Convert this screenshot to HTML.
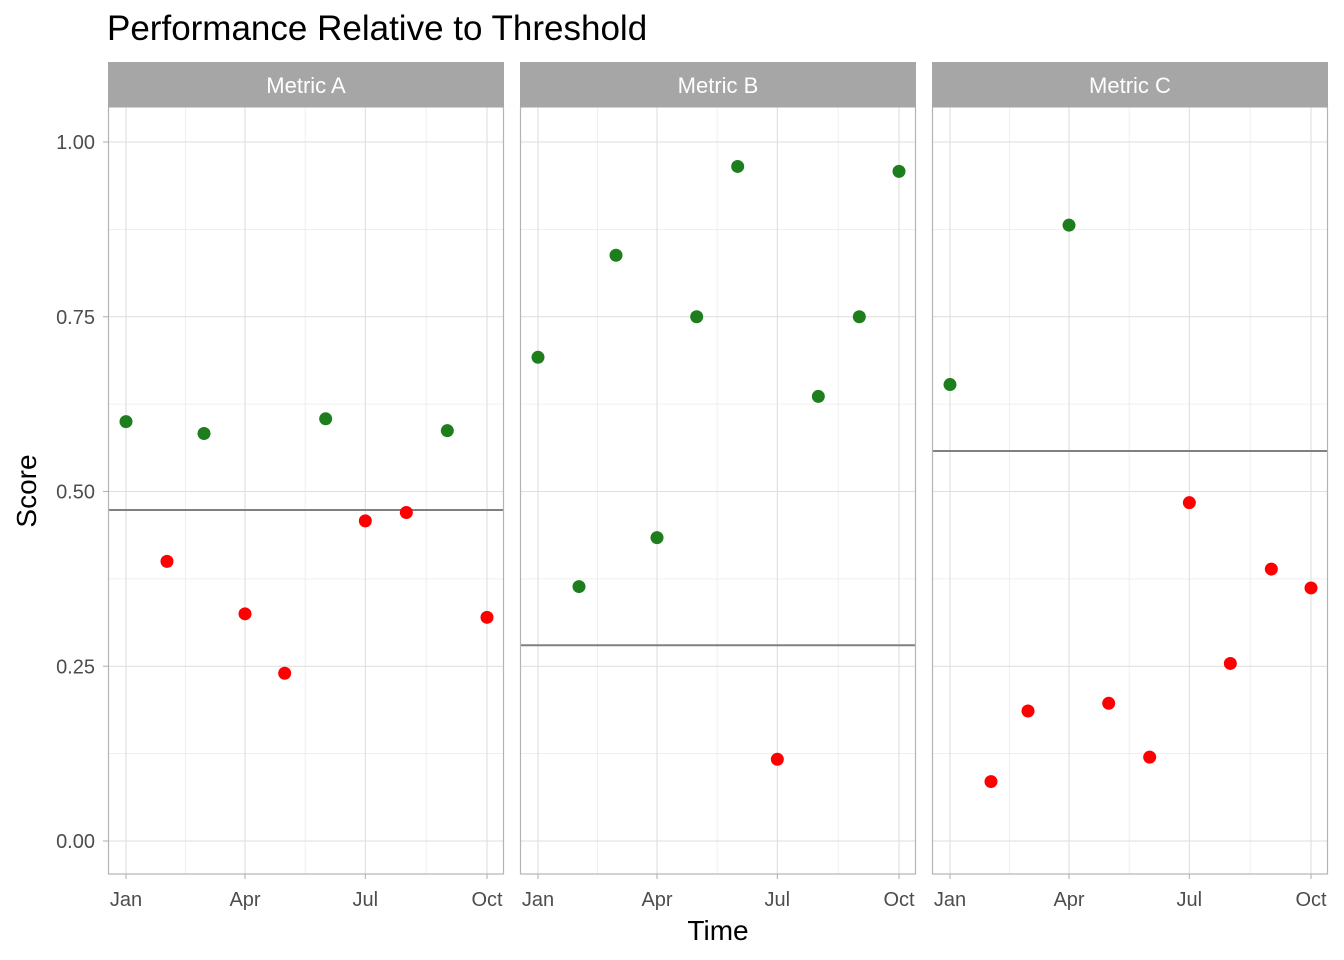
<!DOCTYPE html>
<html><head><meta charset="utf-8"><style>
body{margin:0;background:#fff;}
svg{display:block;font-family:"Liberation Sans",Arial,sans-serif;}
</style></head><body>
<svg id="chart" width="1344" height="960">
<text x="107" y="40" font-size="35" fill="#000">Performance Relative to Threshold</text>
<text x="718" y="940" font-size="28" text-anchor="middle" fill="#000">Time</text>
<text transform="translate(36,491) rotate(-90)" font-size="28" text-anchor="middle" fill="#000">Score</text>
<g id="panels"></g>
</svg>
<script>
const facets = ["Metric A","Metric B","Metric C"];
const monthDays = [0,31,59,90,120,151,181,212,243,273];
const xTickLabels = ["Jan","Apr","Jul","Oct"];
const xTickDays = [0,90,181,273];
const yTicks = [0,0.25,0.5,0.75,1];
const yTickLabels = ["0.00","0.25","0.50","0.75","1.00"];
const valuesA = [0.60,0.40,0.583,0.325,0.24,0.604,0.458,0.47,0.587,0.32];
const valuesB = [0.692,0.364,0.838,0.434,0.75,0.965,0.117,0.636,0.75,0.958];
const valuesC = [0.653,0.085,0.186,0.881,0.197,0.12,0.484,0.254,0.389,0.362];
const thresholds = [0.4735,0.280,0.558];

const NS="http://www.w3.org/2000/svg";
const gRoot=document.getElementById('panels');
const panelX=[108,520,932], panelW=396, panelTop=107, panelBottom=874;
const yScale=v=>841-v*699;
function mk(tag,attrs,parent){const e=document.createElementNS(NS,tag);for(const k in attrs)e.setAttribute(k,attrs[k]);(parent||gRoot).appendChild(e);return e;}
const series=[valuesA,valuesB,valuesC];
facets.forEach((name,i)=>{
  const px=panelX[i];
  const xScale=d=>px+18+d*(361/273);
  const pg=mk('g',{});
  
  
  mk('rect',{x:px,y:panelTop,width:panelW,height:panelBottom-panelTop,fill:'#fff'},pg);
  for(let k=0;k<4;k++){const v=0.125+k*0.25;mk('line',{x1:px,x2:px+panelW,y1:yScale(v),y2:yScale(v),stroke:'#ebebeb','stroke-width':0.8},pg);}
  for(let k=0;k<3;k++){const d=(xTickDays[k]+xTickDays[k+1])/2;mk('line',{x1:xScale(d),x2:xScale(d),y1:panelTop,y2:panelBottom,stroke:'#ebebeb','stroke-width':0.8},pg);}
  yTicks.forEach(v=>mk('line',{x1:px,x2:px+panelW,y1:yScale(v),y2:yScale(v),stroke:'#dedede','stroke-width':1.1},pg));
  xTickDays.forEach(d=>mk('line',{x1:xScale(d),x2:xScale(d),y1:panelTop,y2:panelBottom,stroke:'#dedede','stroke-width':1.1},pg));
  const th=mk('line',{x1:px,x2:px+panelW,y1:yScale(thresholds[i]),y2:yScale(thresholds[i]),stroke:'#808080','stroke-width':2},pg);
  
  
  series[i].forEach((v,j)=>{
    const c=mk('circle',{cx:xScale(monthDays[j]),cy:yScale(v),r:6.5,fill:v>=thresholds[i]?'#1e7e1e':'#ff0000'},pg);
    
    
  });
  mk('rect',{x:px+0.5,y:panelTop,width:panelW-1,height:panelBottom-panelTop,fill:'none',stroke:'#b3b3b3','stroke-width':1.2},pg);
  const s=mk('rect',{x:px,y:62,width:panelW,height:45,fill:'#a6a6a6'},pg);
  
  
  const st=mk('text',{x:px+panelW/2,y:93,'font-size':22,'text-anchor':'middle',fill:'#fff'},pg);
  st.textContent=name;
  
  
  xTickDays.forEach((d,k)=>{
    mk('line',{x1:xScale(d),x2:xScale(d),y1:panelBottom,y2:panelBottom+5,stroke:'#b3b3b3','stroke-width':1.1},pg);
    const t=mk('text',{x:xScale(d),y:906,'font-size':20,'text-anchor':'middle',fill:'#4d4d4d'},pg);
    t.textContent=xTickLabels[k];
    
    
  });
});
yTicks.forEach((v,k)=>{
  mk('line',{x1:103,x2:108,y1:yScale(v),y2:yScale(v),stroke:'#b3b3b3','stroke-width':1.1});
  const t=mk('text',{x:95,y:yScale(v)+7,'font-size':20,'text-anchor':'end',fill:'#4d4d4d'});
  t.textContent=yTickLabels[k];
  
  
});
</script>
</body></html>
